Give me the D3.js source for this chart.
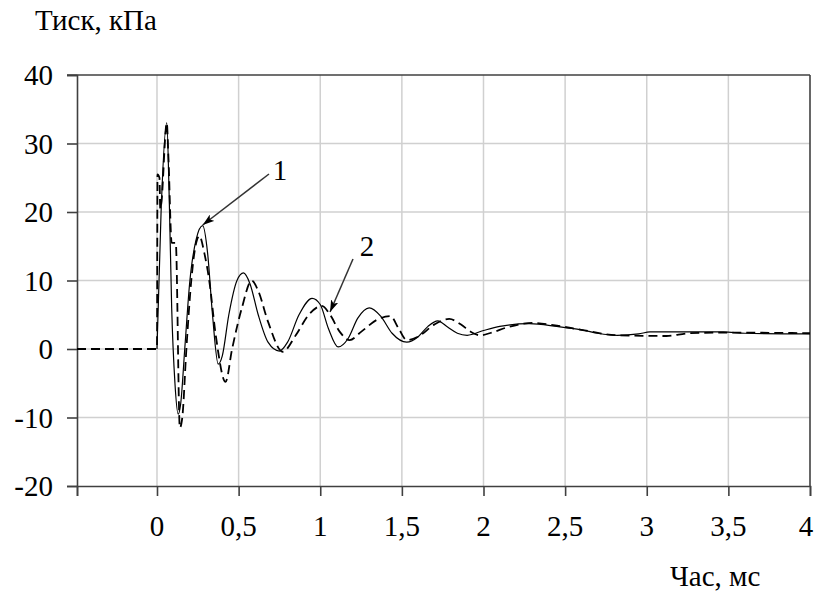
<!DOCTYPE html>
<html><head><meta charset="utf-8">
<script src="https://cdn.jsdelivr.net/npm/d3@7/dist/d3.min.js"></script>
<style>body{margin:0;background:#fff}svg{display:block}</style>
</head><body>
<svg id="c" width="815" height="591"></svg>
<script>
const xTicks = [0, 0.5, 1, 1.5, 2, 2.5, 3, 3.5, 4];
const xTickLabels = ["0", "0,5", "1", "1,5", "2", "2,5", "3", "3,5", "4"];
const yTicks = [-20, -10, 0, 10, 20, 30, 40];
const yLabel = "Тиск, кПа";
const xLabel = "Час, мс";
const seriesLabels = ["1", "2"];

// curve 1 (solid): time, ms
const t1 = [0, 0.025, 0.06, 0.075, 0.09, 0.11, 0.13, 0.145, 0.17, 0.2, 0.24, 0.28, 0.31, 0.34, 0.375, 0.4, 0.44, 0.49, 0.53, 0.57, 0.62, 0.68, 0.75, 0.8, 0.87, 0.95, 1.0, 1.05, 1.11, 1.17, 1.23, 1.3, 1.37, 1.44, 1.53, 1.6, 1.66, 1.72, 1.78, 1.84, 1.9, 2.0, 2.1, 2.28, 2.45, 2.6, 2.7, 2.82, 2.95, 3.02, 3.47, 3.6, 4.0];
const v1 = [0, 20, 33, 22, 6, -5, -9.5, -8, 0, 9.6, 16, 18, 14, 5, -2.2, -1, 5, 10, 11.1, 9.5, 5, 1, -0.3, 1, 5, 7.4, 6.5, 3, 0.3, 1.5, 4.5, 6.0, 4.8, 2.3, 1.0, 1.8, 3.3, 4.1, 3.2, 2.3, 2.0, 2.7, 3.3, 3.7, 3.3, 2.8, 2.3, 2.0, 2.2, 2.5, 2.5, 2.3, 2.2];
// curve 2 (dashed)
const t2 = [-0.49, 0, 0.003, 0.015, 0.02, 0.025, 0.06, 0.07, 0.09, 0.115, 0.14, 0.155, 0.18, 0.21, 0.24, 0.26, 0.29, 0.32, 0.36, 0.42, 0.46, 0.52, 0.58, 0.62, 0.68, 0.77, 0.85, 0.93, 1.01, 1.06, 1.12, 1.18, 1.25, 1.35, 1.43, 1.48, 1.53, 1.6, 1.7, 1.79, 1.86, 1.93, 1.98, 2.05, 2.15, 2.3, 2.45, 2.6, 2.82, 3.12, 3.26, 3.5, 4.0];
const v2 = [0, 0, 25.5, 25, 20.5, 21, 33, 28, 15.5, 15.5, -11.5, -10, 0, 10, 15.5, 16.5, 14, 10, 2, -4.8, 0, 6, 10, 8.5, 4, -0.4, 2, 5, 6.3, 5, 2.5, 1.3, 2.5, 4.3, 4.8, 3, 1.3, 1.8, 3.6, 4.4, 3.6, 2.4, 2.0, 2.4, 3.2, 3.8, 3.4, 2.8, 2.0, 1.9, 2.3, 2.4, 2.3];

const svg = d3.select("#c");
const x = d3.scaleLinear().domain([-0.49, 4]).range([77, 810]);
const y = d3.scaleLinear().domain([-20, 40]).range([486, 75]);
const FS = 29;
const FF = "'Liberation Serif'";

// grid
svg.append("g").selectAll("line").data(xTicks.filter(d => d < 4)).join("line")
  .attr("x1", d => x(d)).attr("x2", d => x(d)).attr("y1", y(40)).attr("y2", y(-20))
  .attr("stroke", "#d0d0d0").attr("stroke-width", 1.5);
svg.append("g").selectAll("line").data(yTicks.filter(d => d > -20 && d < 40)).join("line")
  .attr("x1", x(-0.49)).attr("x2", x(4)).attr("y1", d => y(d)).attr("y2", d => y(d))
  .attr("stroke", "#d0d0d0").attr("stroke-width", 1.5);

// axes
const gx = svg.append("g").attr("transform", `translate(0,${y(-20)})`)
  .call(d3.axisBottom(x).tickValues([-0.49].concat(xTicks)).tickSize(10).tickFormat(""));
const gy = svg.append("g").attr("transform", `translate(${x(-0.49)},0)`)
  .call(d3.axisLeft(y).tickValues(yTicks).tickSize(10).tickFormat(""));
[gx, gy].forEach(g => {
  g.select(".domain").attr("stroke", "#404040").attr("stroke-width", 1.6);
  g.selectAll(".tick line").attr("stroke", "#404040").attr("stroke-width", 1.6);
});
// top and right borders
svg.append("line").attr("x1", x(-0.49) - 10).attr("x2", x(4)).attr("y1", y(40)).attr("y2", y(40))
  .attr("stroke", "#404040").attr("stroke-width", 1.6);
svg.append("line").attr("x1", x(4)).attr("x2", x(4)).attr("y1", y(40)).attr("y2", y(-20))
  .attr("stroke", "#404040").attr("stroke-width", 1.6);

// tick labels
svg.append("g").selectAll("text").data(xTicks).join("text")
  .attr("x", d => Math.min(x(d), 806)).attr("y", 536).attr("text-anchor", "middle")
  .style("font-family", FF).attr("font-size", FS).attr("fill", "#000").text((d, i) => xTickLabels[i]);
svg.append("g").selectAll("text").data(yTicks).join("text")
  .attr("x", 53).attr("y", d => y(d) + 10).attr("text-anchor", "end")
  .style("font-family", FF).attr("font-size", FS).attr("fill", "#000").text(d => d);

svg.append("text").attr("x", 35).attr("y", 30).style("font-family", FF).attr("font-size", FS).text(yLabel);
svg.append("text").attr("x", 670).attr("y", 586).style("font-family", FF).attr("font-size", FS).text(xLabel);

// curves
const line = d3.line().x(d => x(d[0])).y(d => y(d[1])).curve(d3.curveMonotoneX);
svg.append("path").datum(t1.map((t, i) => [t, v1[i]])).attr("d", line)
  .attr("fill", "none").attr("stroke", "#000").attr("stroke-width", 1.2);
svg.append("path").datum(t2.map((t, i) => [t, v2[i]])).attr("d", line)
  .attr("fill", "none").attr("stroke", "#000").attr("stroke-width", 1.8).attr("stroke-dasharray", "9,5");

// labels and arrows
svg.append("defs").append("marker").attr("id", "ah").attr("viewBox", "0 0 12 8")
  .attr("refX", 12).attr("refY", 4).attr("markerWidth", 12).attr("markerHeight", 8)
  .attr("markerUnits", "userSpaceOnUse").attr("orient", "auto")
  .append("path").attr("d", "M0,0L12,4L0,8L3,4Z").attr("fill", "#000");
const ann = [
  {lbl: seriesLabels[0], tx: 280, ty: 180, x1: 269, y1: 174, t: 0.28, v: 18.1},
  {lbl: seriesLabels[1], tx: 367, ty: 256, x1: 353, y1: 259, t: 1.06, v: 5.4}
];
ann.forEach(a => {
  svg.append("text").attr("x", a.tx).attr("y", a.ty).attr("text-anchor", "middle")
    .style("font-family", FF).attr("font-size", FS).text(a.lbl);
  svg.append("line").attr("x1", a.x1).attr("y1", a.y1).attr("x2", x(a.t)).attr("y2", y(a.v))
    .attr("stroke", "#333").attr("stroke-width", 1.5).attr("marker-end", "url(#ah)");
});
</script>
</body></html>
